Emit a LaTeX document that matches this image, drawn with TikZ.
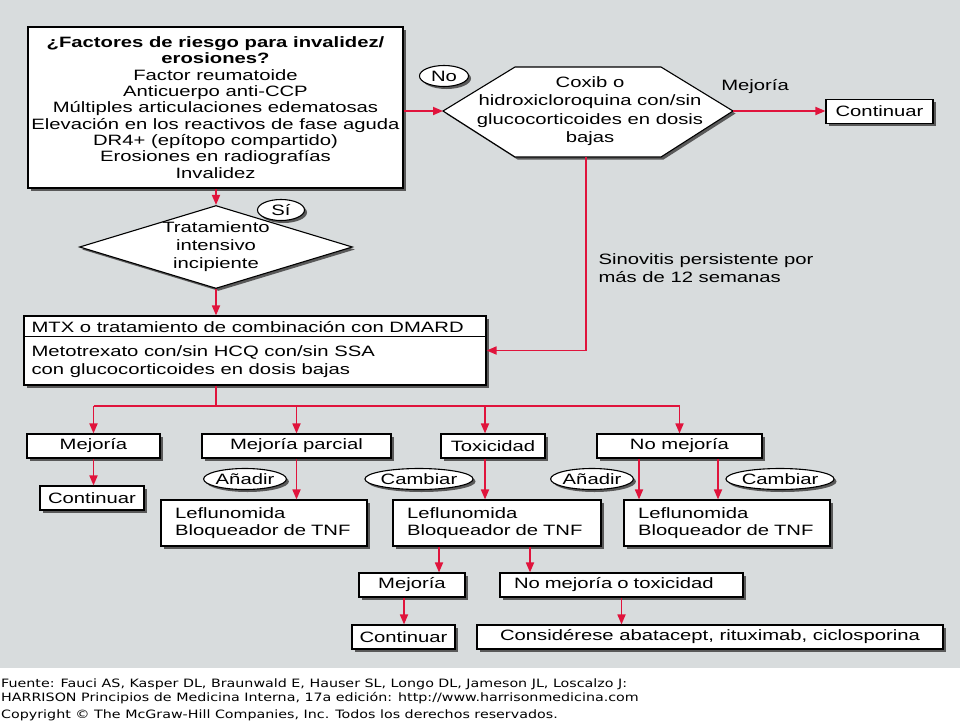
\documentclass[tikz,border=0pt]{standalone}
\usepackage{fontspec}
\setmainfont{Liberation Sans}[FakeStretch=1.35]
\newfontfamily\footfont{DejaVu Sans}[FakeStretch=1.24]
\usetikzlibrary{arrows.meta,shapes.geometric,shadows}
\definecolor{bggray}{RGB}{216,220,221}
\definecolor{flowred}{RGB}{224,20,60}

\begin{document}
\begin{tikzpicture}[x=1pt, y=-1pt,
	every node/.style={font=\fontsize{15pt}{17pt}\selectfont},
	shade/.style={drop shadow={shadow xshift=2.5pt, shadow yshift=-2.5pt, fill=black!65, opacity=1}},
	box/.style={draw, fill=white, line width=1.1pt, inner sep=0pt, align=center, minimum height=24pt, shade},
	leftbox/.style={box, align=left, inner xsep=14pt},
	tag/.style={ellipse, draw, fill=white, line width=1.1pt, inner sep=0pt, minimum height=21pt, shade},
	conn/.style={draw=flowred, line width=1.7pt, -{Triangle[length=10pt,width=8pt]}},
	wire/.style={draw=flowred, line width=1.7pt}]
	\useasboundingbox (0,0) rectangle (960,720);
	\fill[white] (0,0) rectangle (960,720);
	\fill[bggray] (0,0) rectangle (960,668);
	% top part
	\node[box, minimum width=375pt, minimum height=161pt, font=\fontsize{15pt}{16.3pt}\selectfont] (risk) at (215.5,107.5) {\textbf{¿Factores de riesgo para invalidez/}\\\textbf{erosiones?}\\Factor reumatoide\\Anticuerpo anti-CCP\\Múltiples articulaciones edematosas\\Elevación en los reactivos de fase aguda\\DR4+ (epítopo compartido)\\Erosiones en radiografías\\Invalidez};
	\draw[line width=1.1pt, fill=white, shade] (443,111) -- (515,67) -- (661,67) -- (733,111) -- (661,157) -- (515,157) -- cycle;
	\coordinate (hexL) at (443,111);
	\coordinate (hexR) at (733,111);
	\coordinate (hexB) at (586,157);
	\node[align=center, font=\fontsize{15pt}{18.5pt}\selectfont] (hex) at (590,111) {Coxib o\\hidroxicloroquina con/sin\\glucocorticoides en dosis\\bajas};
	\node[box, minimum width=107pt] (cont1) at (879.5,111.5) {Continuar};
	\node[tag, minimum width=49pt] (no) at (444,76) {No};
	\node (mej1) at (755,87) {Mejoría};
	\node[box, diamond, aspect=3.3, minimum width=273pt, minimum height=83pt, font=\fontsize{15pt}{18pt}\selectfont] (early) at (216,247) {Tratamiento\\intensivo\\incipiente};
	\node[tag, minimum width=47pt] (si) at (281,210) {Sí};
	\node[anchor=west, align=left, font=\fontsize{15pt}{18pt}\selectfont] (sino) at (595,268) {Sinovitis persistente por\\más de 12 semanas};
	% DMARD box
	\node[box, minimum width=462pt, minimum height=69pt] (mtx) at (255,350.5) {};
	\draw[line width=1.1pt] ([yshift=-21pt]mtx.north west) -- ([yshift=-21pt]mtx.north east);
	\node[anchor=west] (mtxA) at (28,327) {MTX o tratamiento de combinación con DMARD};
	\node[anchor=west, align=left, font=\fontsize{15pt}{18pt}\selectfont] (mtxB) at (28,362) {Metotrexato con/sin HCQ con/sin SSA\\con glucocorticoides en dosis bajas};
	% responses
	\node[box, minimum width=133pt] (mej2) at (93.5,446) {Mejoría};
	\node[box, minimum width=189pt] (parc) at (296.5,446) {Mejoría parcial};
	\node[box, minimum width=104pt] (tox) at (493,446) {Toxicidad};
	\node[box, minimum width=165pt] (nomej) at (679.5,446) {No mejoría};
	\node[box, minimum width=104pt] (cont2) at (92,498) {Continuar};
	\node[leftbox, text width=178pt, minimum height=46pt] (lef1) at (264,523) {Leflunomida\\Bloqueador de TNF};
	\node[leftbox, text width=180pt, minimum height=46pt] (lef2) at (497,523) {Leflunomida\\Bloqueador de TNF};
	\node[leftbox, text width=178pt, minimum height=46pt] (lef3) at (727,523) {Leflunomida\\Bloqueador de TNF};
	\node[tag, minimum width=74pt] (add1) at (245,479) {Añadir};
	\node[tag, minimum width=98pt] (chg1) at (419,479) {Cambiar};
	\node[tag, minimum width=71pt] (add2) at (592,479) {Añadir};
	\node[tag, minimum width=105pt] (chg2) at (780,479) {Cambiar};
	\node[box, minimum width=106pt] (mej3) at (412,585) {Mejoría};
	\node[leftbox, text width=215pt, inner xsep=14pt] (notox) at (621.5,585) {No mejoría o toxicidad};
	\node[box, minimum width=103pt] (cont3) at (403.5,637) {Continuar};
	\node[box, minimum width=466pt] (cons) at (710,637) {Considérese abatacept, rituximab, ciclosporina};
	% connectors
	\draw[conn] (early.north |- risk.south) -- (early.north);
	\draw[conn] (early.south) -- (early.south |- mtx.north);
	\draw[conn] (risk.east |- hexL) -- (hexL);
	\draw[conn] (hexR) -- (hexR -| cont1.west);
	\draw[conn] (hexB) |- (mtx.east);
	\coordinate (bus) at (216,406);
	\draw[wire] (mtx.south -| bus) -- (bus);
	\draw[wire] (mej2.north |- bus) -- (nomej.north |- bus);
	\foreach \n in {mej2, parc, nomej}
		\draw[conn] (\n.north |- bus) -- (\n.north);
	\draw[conn] ([xshift=-8pt]tox.north |- bus) -- ([xshift=-8pt]tox.north);
	\draw[conn] (mej2.south) -- (mej2.south |- cont2.north);
	\draw[conn] (parc.south) -- (parc.south |- lef1.north);
	\draw[conn] ([xshift=-8pt]tox.south) -- ([xshift=-8pt]tox.south |- lef2.north);
	\draw[conn] ([xshift=-40.5pt]nomej.south) -- ([xshift=-40.5pt]nomej.south |- lef3.north);
	\draw[conn] ([xshift=38.5pt]nomej.south) -- ([xshift=38.5pt]nomej.south |- lef3.north);
	\draw[conn] ([xshift=-58pt]lef2.south) -- ([xshift=-58pt]lef2.south |- mej3.north);
	\draw[conn] ([xshift=33pt]lef2.south) -- ([xshift=33pt]lef2.south |- notox.north);
	\draw[conn] ([xshift=-8pt]mej3.south) -- ([xshift=-8pt]mej3.south |- cont3.north);
	\draw[conn] (notox.south) -- (notox.south |- cons.north);
	% source
	\node[anchor=west, align=left, inner sep=0pt, font=\footfont\fontsize{11.5pt}{14pt}\selectfont] (src) at (1,691) {Fuente: Fauci AS, Kasper DL, Braunwald E, Hauser SL, Longo DL, Jameson JL, Loscalzo J:\\HARRISON Principios de Medicina Interna, 17a edición: http://www.harrisonmedicina.com};
	\node[anchor=west, inner sep=0pt, font=\footfont\fontsize{11.5pt}{14pt}\selectfont] (copy) at (1,715) {Copyright © The McGraw-Hill Companies, Inc. Todos los derechos reservados.};
\end{tikzpicture}
\end{document}
